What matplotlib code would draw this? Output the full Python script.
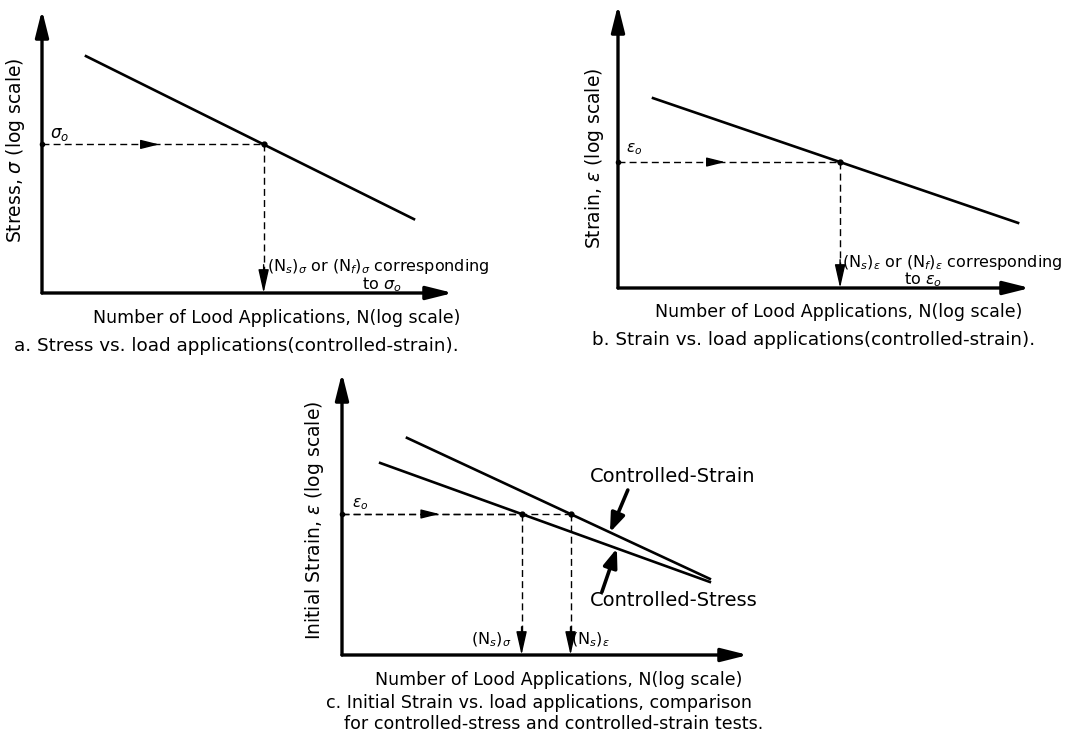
import numpy as np
import matplotlib.pyplot as plt

# ── Data (schematic, in "log units" along each axis: 0..10) ──────────────────

# a. stress vs N (controlled-strain)
a_logN = [1.07, 9.05]
a_logS = [8.37, 2.61]
a_sigma0 = 5.25

# b. strain vs N (controlled-strain)
b_logN = [0.85, 9.71]
b_logE = [6.71, 2.30]
b_eps0 = 4.45

# c. initial strain vs N, both test modes
c_strain_logN = [1.60, 9.06]
c_strain_logE = [7.70, 2.70]
c_stress_logN = [0.94, 9.06]
c_stress_logE = [6.81, 2.59]
c_eps0 = 5.0

W, H = 1074, 738
XLAB = 12.5
YLAB = 13.5
CAP = 13.2
NOTE = 11.5


def ax_box(x0, y0, x1, y1):
    """pixel box (origin -> arrow tips) to figure fraction rect"""
    return [x0 / W, 1 - y0 / H, (x1 - x0) / W, (y0 - y1) / H]


def ftext(x, y, s, size, **kw):
    fig.text(x / W, 1 - y / H, s, fontsize=size, **kw)


def setup(ax):
    ax.set_xlim(0, 10)
    ax.set_ylim(0, 10)
    ax.axis("off")
    aprops = dict(arrowstyle="-|>,head_length=0.8,head_width=0.2",
                  color="black", lw=2.4, mutation_scale=20,
                  shrinkA=0, shrinkB=0)
    ax.annotate("", xy=(1, 0), xytext=(0, 0), xycoords="axes fraction",
                arrowprops=aprops, annotation_clip=False)
    ax.annotate("", xy=(0, 1), xytext=(0, 0), xycoords="axes fraction",
                arrowprops=aprops, annotation_clip=False)


def cross_at(level, logN, logY):
    """N where a straight line reaches a given level"""
    return np.interp(level, logY[::-1], logN[::-1])


def guide(ax, n, level, arrow_x=None):
    """dashed lines from y-axis to the curve and down to the N axis"""
    ax.plot([0, n], [level, level], ls=(0, (5, 3)), color="black", lw=1)
    ax.plot([n, n], [level, 0.6], ls=(0, (5, 3)), color="black", lw=1)
    ax.plot([n], [level], "o", color="black", ms=3.5)
    ax.annotate("", xy=(n, 0), xytext=(n, 1.0),
                arrowprops=dict(arrowstyle="-|>,head_length=0.8,head_width=0.18",
                                color="black", lw=1, mutation_scale=18,
                                shrinkA=0, shrinkB=0))
    if arrow_x is not None:
        ax.annotate("", xy=(arrow_x, level), xytext=(arrow_x - 0.3, level),
                    arrowprops=dict(arrowstyle="-|>,head_length=0.8,head_width=0.2",
                                    color="black", lw=1, mutation_scale=14,
                                    shrinkA=0, shrinkB=0))


def pointer(ax, tip_n, logN, logY, tail):
    ax.annotate("", xy=(tip_n, np.interp(tip_n, logN, logY)), xytext=tail,
                arrowprops=dict(arrowstyle="-|>,head_length=0.8,head_width=0.3",
                                color="black", lw=2.6, mutation_scale=14,
                                shrinkA=0, shrinkB=0))


fig = plt.figure(figsize=(W / 100, H / 100), dpi=100)

# ── a ────────────────────────────────────────────────────────────────────────
ax_a = fig.add_axes(ax_box(42, 293, 453, 10))
setup(ax_a)
ax_a.plot(a_logN, a_logS, color="black", lw=1.9)
na = cross_at(a_sigma0, a_logN, a_logS)
guide(ax_a, na, a_sigma0, arrow_x=2.85)
ax_a.plot([0], [a_sigma0], "o", color="black", ms=3, clip_on=False)
ftext(50, 138, r"$\sigma_o$", 12)
ftext(16, 150, r"Stress, $\sigma$ (log scale)", YLAB, rotation=90, ha="center", va="center")
ftext(267, 267, r"(N$_s$)$_\sigma$ or (N$_f$)$_\sigma$ corresponding", NOTE, va="center")
ftext(362, 285, r"to $\sigma_o$", NOTE, va="center")
ftext(93, 318, "Number of Lood Applications, N(log scale)", XLAB, va="center")
ftext(14, 346, "a. Stress vs. load applications(controlled-strain).", CAP, va="center")

# ── b ────────────────────────────────────────────────────────────────────────
ax_b = fig.add_axes(ax_box(618, 288, 1030, 5))
setup(ax_b)
ax_b.plot(b_logN, b_logE, color="black", lw=1.9)
nb = cross_at(b_eps0, b_logN, b_logE)
guide(ax_b, nb, b_eps0, arrow_x=2.6)
ax_b.plot([0], [b_eps0], "o", color="black", ms=3, clip_on=False)
ftext(626, 152, r"$\varepsilon_o$", 11)
ftext(595, 158, r"Strain, $\varepsilon$ (log scale)", YLAB, rotation=90, ha="center", va="center")
ftext(842, 262, r"(N$_s$)$_\varepsilon$ or (N$_f$)$_\varepsilon$ corresponding", NOTE, va="center")
ftext(904, 280, r"to $\varepsilon_o$", NOTE, va="center")
ftext(655, 312, "Number of Lood Applications, N(log scale)", XLAB, va="center")
ftext(592, 340, "b. Strain vs. load applications(controlled-strain).", CAP, va="center")

# ── c ────────────────────────────────────────────────────────────────────────
ax_c = fig.add_axes(ax_box(342, 655, 748, 373))
setup(ax_c)
ax_c.plot(c_strain_logN, c_strain_logE, color="black", lw=1.9)
ax_c.plot(c_stress_logN, c_stress_logE, color="black", lw=1.9)
n_sig = cross_at(c_eps0, c_stress_logN, c_stress_logE)
n_eps = cross_at(c_eps0, c_strain_logN, c_strain_logE)
guide(ax_c, n_eps, c_eps0, arrow_x=2.4)
guide(ax_c, n_sig, c_eps0)
ax_c.plot([0], [c_eps0], "o", color="black", ms=3, clip_on=False)

# pointer arrows to the two lines
pointer(ax_c, 6.6, c_strain_logN, c_strain_logE, (7.04, 5.85))
pointer(ax_c, 6.77, c_stress_logN, c_stress_logE, (6.40, 2.23))

ftext(352, 507, r"$\varepsilon_o$", 11)
ftext(314, 520, r"Initial Strain, $\varepsilon$ (log scale)", YLAB, rotation=90, ha="center", va="center")
ftext(590, 477, "Controlled-Strain", 14, va="center")
ftext(590, 600, "Controlled-Stress", 14, va="center")
ftext(511, 640, r"(N$_s$)$_\sigma$", NOTE, ha="right", va="center")
ftext(571, 640, r"(N$_s$)$_\varepsilon$", NOTE, ha="left", va="center")
ftext(375, 680, "Number of Lood Applications, N(log scale)", XLAB, va="center")
ftext(326, 703, "c. Initial Strain vs. load applications, comparison", 12.6, va="center")
ftext(344, 724, "for controlled-stress and controlled-strain tests.", 12.6, va="center")

fig.savefig("out.png", dpi=100)
